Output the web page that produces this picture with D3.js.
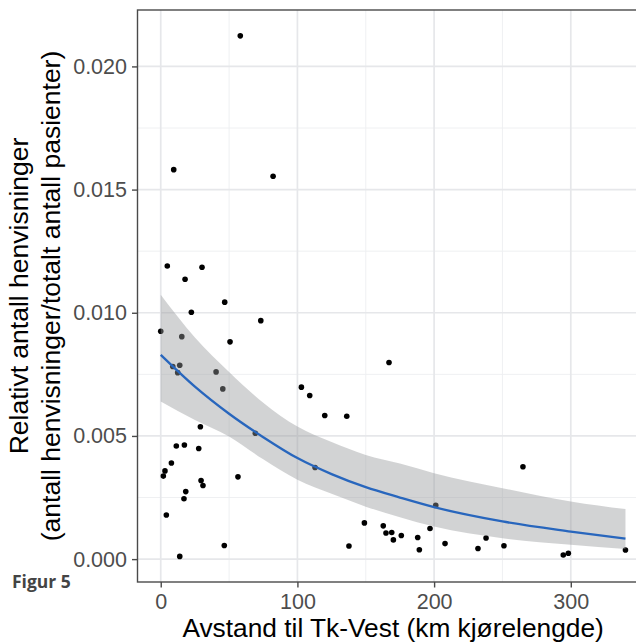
<!DOCTYPE html>
<html>
<head>
<meta charset="utf-8">
<script src="https://cdn.jsdelivr.net/npm/d3@7"></script>
<style>
  body { margin: 0; background: #fff; }
  svg { display: block; font-family: "Liberation Sans", Arial, sans-serif; }
</style>
</head>
<body>
<div id="chart"></div>
<script>
// distance (km) and relative referrals for each municipality
var distance = [0, 1.9, 3.1, 4.1, 4.8, 7.8, 8.8, 9.5, 11.4, 12.4, 13.9, 13.9, 15.4, 17.0, 17.3,
  17.8, 18.3, 22.4, 27.8, 29.0, 29.5, 30.2, 30.9, 40.5, 45.4, 46.5, 46.8, 50.7, 56.5, 58.2,
  69.2, 73.2, 82.2, 102.9, 109, 112.9, 120, 136.1, 137.7, 149, 162.8, 164.8, 167, 169, 170.2,
  176, 188, 189.2, 197, 201.2, 208, 232.1, 238, 251.1, 265, 294.5, 298.2, 340];
var referrals = [0.00925, 0.00337, 0.00358, 0.00179, 0.01190, 0.00390, 0.00782, 0.01581, 0.00459,
  0.00757, 0.00787, 0.00011, 0.00903, 0.00245, 0.00463, 0.01136, 0.00274, 0.01002, 0.00449,
  0.00537, 0.00319, 0.01185, 0.00299, 0.00760, 0.00691, 0.00055, 0.01043, 0.00882, 0.00334,
  0.02124, 0.00511, 0.00968, 0.01554, 0.00698, 0.00664, 0.00372, 0.00583, 0.00580, 0.00053,
  0.00147, 0.00135, 0.00106, 0.00798, 0.00108, 0.00078, 0.00096, 0.00088, 0.00038, 0.00124,
  0.00218, 0.00063, 0.00043, 0.00086, 0.00054, 0.00375, 0.00017, 0.00024, 0.00037];

// smoothed fit with confidence band
var fitDistance = [0, 25, 50, 75, 100, 125, 150, 175, 200, 250, 300, 340];
var fitValue = [0.00829, 0.00700, 0.00590, 0.00495, 0.00410, 0.00345, 0.00292, 0.00250, 0.00211, 0.00153, 0.00112, 0.00083];
var fitLower = [0.00640, 0.00565, 0.00498, 0.00405, 0.00322, 0.00265, 0.00213, 0.00170, 0.00132, 0.00085, 0.00058, 0.00041];
var fitUpper = [0.01073, 0.00900, 0.00760, 0.00635, 0.00538, 0.00475, 0.00423, 0.00388, 0.00349, 0.00288, 0.00234, 0.00203];

// tick values
var xTicks = [0, 100, 200, 300];
var xMinor = [50, 150, 250, 350];
var yTicks = [0, 0.005, 0.010, 0.015, 0.020];
var yMinor = [0.0025, 0.0075, 0.0125, 0.0175];

var width = 636, height = 644;
var panel = {left: 137.5, top: 10, right: 648.7, bottom: 582};

var svg = d3.select("#chart")
    .append("svg")
    .attr("width", width)
    .attr("height", height);

var x = d3.scaleLinear()
    .domain([-17, 357])
    .range([panel.left, panel.right]);

var y = d3.scaleLinear()
    .domain([-0.000929, 0.02229])
    .range([panel.bottom, panel.top]);

// grid lines
var grid = svg.append("g");
grid.selectAll(".yminor").data(yMinor).enter().append("line")
    .attr("x1", panel.left).attr("x2", panel.right)
    .attr("y1", function(d) { return y(d); }).attr("y2", function(d) { return y(d); })
    .attr("stroke", "#EDEEF0").attr("stroke-width", 0.9);
grid.selectAll(".xminor").data(xMinor).enter().append("line")
    .attr("y1", panel.top).attr("y2", panel.bottom)
    .attr("x1", function(d) { return x(d); }).attr("x2", function(d) { return x(d); })
    .attr("stroke", "#EDEEF0").attr("stroke-width", 0.9);
grid.selectAll(".ymajor").data(yTicks).enter().append("line")
    .attr("x1", panel.left).attr("x2", panel.right)
    .attr("y1", function(d) { return y(d); }).attr("y2", function(d) { return y(d); })
    .attr("stroke", "#E6E7EA").attr("stroke-width", 1.7);
grid.selectAll(".xmajor").data(xTicks).enter().append("line")
    .attr("y1", panel.top).attr("y2", panel.bottom)
    .attr("x1", function(d) { return x(d); }).attr("x2", function(d) { return x(d); })
    .attr("stroke", "#E6E7EA").attr("stroke-width", 1.7);

// points
svg.append("g")
    .selectAll("circle")
    .data(distance)
    .enter().append("circle")
    .attr("cx", function(d) { return x(d); })
    .attr("cy", function(d, i) { return y(referrals[i]); })
    .attr("r", 2.8)
    .attr("fill", "#000");

// confidence band
var area = d3.area()
    .x(function(d) { return x(d); })
    .y0(function(d, i) { return y(fitLower[i]); })
    .y1(function(d, i) { return y(fitUpper[i]); })
    .curve(d3.curveMonotoneX);

svg.append("path")
    .datum(fitDistance)
    .attr("d", area)
    .attr("fill", "#97999c")
    .attr("fill-opacity", 0.43);

// fitted line
var line = d3.line()
    .x(function(d) { return x(d); })
    .y(function(d, i) { return y(fitValue[i]); })
    .curve(d3.curveMonotoneX);

svg.append("path")
    .datum(fitDistance)
    .attr("d", line)
    .attr("fill", "none")
    .attr("stroke", "#2866BD")
    .attr("stroke-width", 2.3);

// panel border
svg.append("rect")
    .attr("x", panel.left).attr("y", panel.top)
    .attr("width", panel.right - panel.left)
    .attr("height", panel.bottom - panel.top)
    .attr("fill", "none")
    .attr("stroke", "#4a4a4a")
    .attr("stroke-width", 1.4);

// axes
var xAxis = d3.axisBottom(x).tickValues(xTicks).tickSize(5.5).tickSizeOuter(0).tickPadding(6);
var gx = svg.append("g")
    .attr("transform", "translate(0," + panel.bottom + ")")
    .call(xAxis);

var yAxis = d3.axisLeft(y).tickValues(yTicks).tickFormat(d3.format(".3f")).tickSize(5.5).tickSizeOuter(0).tickPadding(5);
var gy = svg.append("g")
    .attr("transform", "translate(" + panel.left + ",0)")
    .call(yAxis);

[gx, gy].forEach(function(g) {
  g.select(".domain").remove();
  g.selectAll(".tick line").attr("stroke", "#4a4a4a").attr("stroke-width", 1.4);
  g.selectAll(".tick text")
    .attr("fill", "#4D4D4D")
    .style("font-size", "21.5px")
    .style("font-family", "'Liberation Sans', Arial, sans-serif");
});

// axis titles
svg.append("text")
    .attr("x", (panel.left + panel.right) / 2)
    .attr("y", 637)
    .attr("text-anchor", "middle")
    .style("font-size", "26.3px")
    .attr("fill", "#000")
    .text("Avstand til Tk-Vest (km kjørelengde)");

var yTitle = svg.append("text")
    .attr("transform", "translate(0," + (panel.top + panel.bottom) / 2 + ") rotate(-90)")
    .attr("text-anchor", "middle")
    .style("font-size", "26.5px")
    .attr("fill", "#000");
yTitle.append("tspan").attr("x", 0).attr("y", 28).text("Relativt antall henvisninger");
yTitle.append("tspan").attr("x", 0).attr("y", 59.5).text("(antall henvisninger/totalt antall pasienter)");

// figure label
svg.append("text")
    .attr("x", 12)
    .attr("y", 588)
    .style("font-family", "'Open Sans', sans-serif")
    .style("font-weight", "bold")
    .style("font-size", "17.5px")
    .attr("fill", "#444")
    .text("Figur 5");
</script>
</body>
</html>
